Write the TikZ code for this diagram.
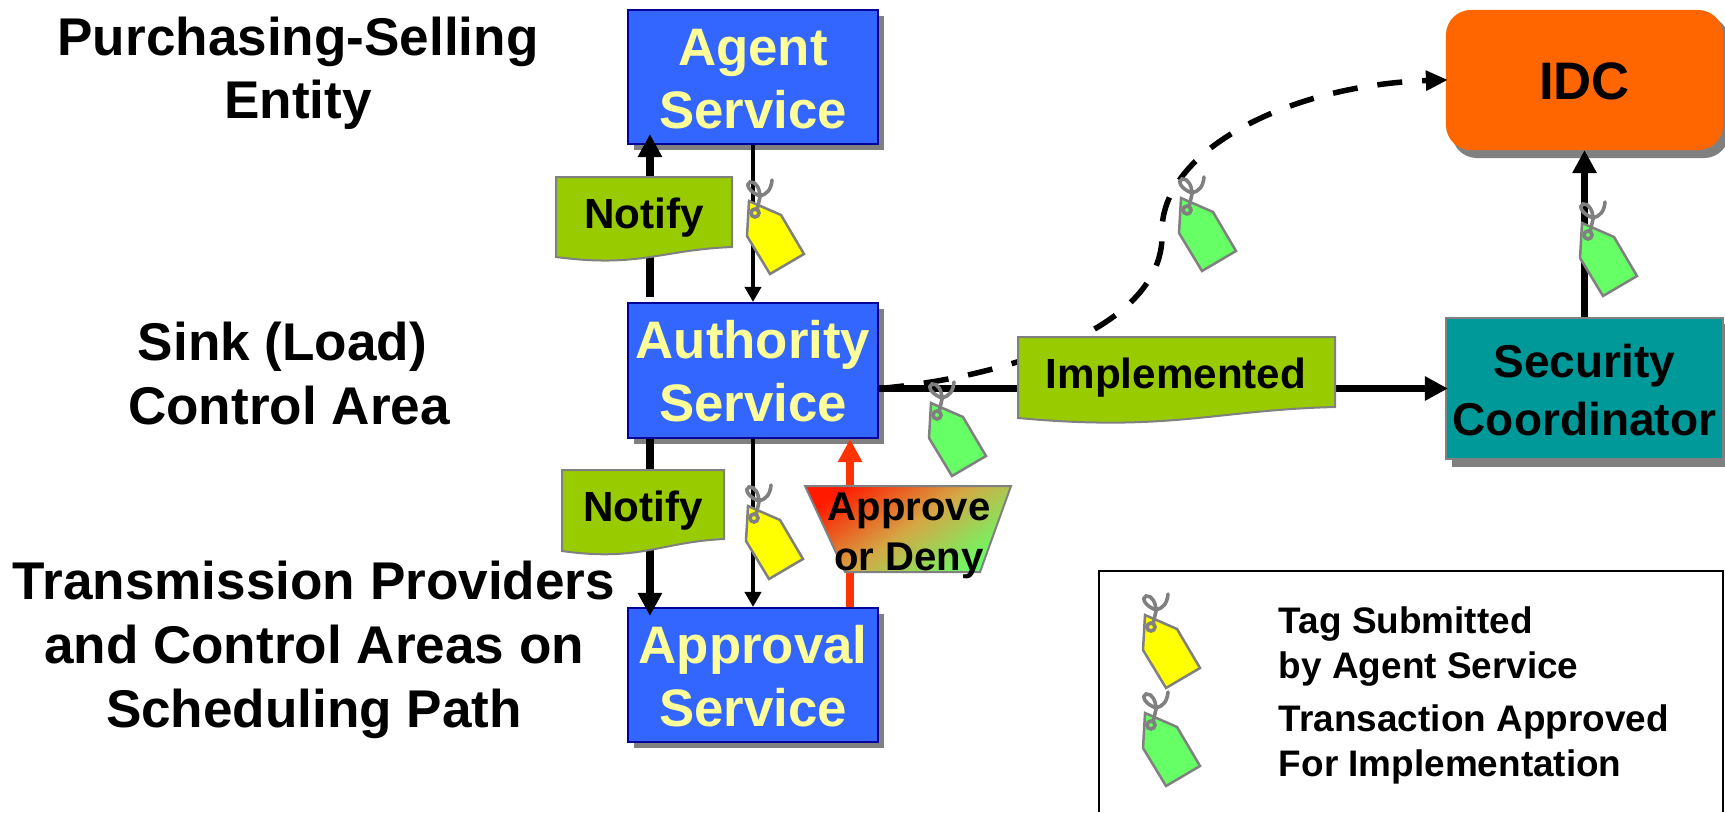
\documentclass[tikz,border=0pt]{standalone}
\usepackage{fontspec}
\setmainfont{Liberation Sans}
\usetikzlibrary{arrows.meta,shadows}
\definecolor{boxblue}{HTML}{3366FF}
\definecolor{boxedge}{HTML}{000099}
\definecolor{wavegreen}{HTML}{99CC00}
\definecolor{tagyellow}{HTML}{FFFF00}
\definecolor{taggreen}{HTML}{66FF66}
\definecolor{paleyellow}{HTML}{FFFF99}
\definecolor{idcorange}{HTML}{FF6600}
\definecolor{teal}{HTML}{009999}
\definecolor{redarrow}{HTML}{FF3300}
\definecolor{redstart}{HTML}{FF1A00}
\definecolor{midgate}{HTML}{D4A845}
\definecolor{shadowgray}{HTML}{808080}
\pgfdeclareverticalshading{gateshade}{100bp}{color(0bp)=(taggreen); color(24bp)=(taggreen); color(50bp)=(midgate); color(76bp)=(redstart); color(100bp)=(redstart)}
\begin{document}
\begin{tikzpicture}[x=0.01cm,y=-0.01cm,
    service/.style={draw=boxedge, line width=.02cm, fill=boxblue, text=paleyellow, inner sep=0pt, minimum width=2.5cm, minimum height=1.34cm, align=center, font=\fontsize{15}{17.9}\selectfont\bfseries, drop shadow={shadow xshift=.06cm, shadow yshift=-.06cm, fill=shadowgray, opacity=1}},
    title/.style={align=center, font=\fontsize{15.1}{18.1}\selectfont\bfseries},
    small/.style={align=center, font=\fontsize{12}{14.2}\selectfont\bfseries},
    legendtext/.style={anchor=west, align=left, font=\fontsize{10.5}{12.8}\selectfont\bfseries},
    wave/.style={draw=shadowgray, line width=.02cm, fill=wavegreen},
    heavy/.style={line width=.075cm, -{Triangle[length=.23cm, width=.23cm]}},
    light/.style={line width=.04cm, -{Triangle[length=.15cm, width=.16cm]}},
    pics/hangtag/.style={code={
        \draw[draw=shadowgray, line width=.025cm, fill=#1] (0,0) -- (32,14) -- (55,53) -- (21,73) -- (-2,35) -- cycle;
        \draw[draw=shadowgray, line width=.036cm] (6,12) circle (4);
        \draw[draw=shadowgray, line width=.036cm, line cap=round] (8,9) -- (11,-4) .. controls (11,-12) and (7,-20) .. (1,-19) .. controls (-4,-17) and (0,-9) .. (11,-5) .. controls (18,-7) and (22,-11) .. (23,-21);
    }}]
    \useasboundingbox (0,0) rectangle (1725,812);

    % draw the services
    \node[service] (agent) at (753,77) {\rule{0pt}{11.5pt}Agent\\Service};
    \node[service, minimum height=1.35cm] (authority) at (753,370.5) {\rule{0pt}{11.5pt}Authority\\Service};
    \node[service] (approval) at (753,675) {\rule{0pt}{11.5pt}Approval\\Service};
    \node[service, draw=none, fill=idcorange, text=black, rounded corners=.25cm, minimum width=2.77cm, minimum height=1.4cm, drop shadow={shadow xshift=.06cm, shadow yshift=-.08cm, fill=shadowgray, opacity=1}] (idc) at (1584.5,80) {\rule{0pt}{11.5pt}IDC};
    \node[service, draw=shadowgray, fill=teal, text=black, minimum width=2.77cm, minimum height=1.41cm, font=\fontsize{13.1}{16.5}\selectfont\bfseries, drop shadow={shadow xshift=.06cm, shadow yshift=-.08cm, fill=shadowgray, opacity=1}] (security) at (1584.5,388.5) {\rule{0pt}{10.3pt}Security\\Coordinator};

    % the texts on the left
    \node[title] (entity) at (298,73.4) {Purchasing-Selling\\Entity};
    \node[title] (sink) at (289,373.5) {Sink (Load)\hspace*{.13cm}\\Control Area};
    \node[title] (path) at (314,650) {Transmission Providers\\and Control Areas on\\Scheduling Path};

    % draw the arrows
    \draw[heavy, shorten >=-.11cm] ([xshift=.23cm, yshift=.05cm]authority.north west) -- ([xshift=.23cm]agent.south west);
    \draw[heavy, shorten >=-.09cm] ([xshift=.23cm]authority.south west) -- ([xshift=.23cm]approval.north west);
    \draw[light] (agent.south) -- (authority.north);
    \draw[light] (authority.south) -- (approval.north);
    \draw[heavy, redarrow, line width=.08cm] ([xshift=-.29cm]approval.north east) -- ([xshift=-.29cm]authority.south east);
    \draw[heavy, shorten >=-.03cm] (authority.east |- security.west) -- (security.west);
    \draw[heavy, shorten >=-.01cm] (security.north) -- (idc.south);
    \draw[line width=.055cm, dash pattern=on .25cm off .2cm, shorten >=-.03cm, -{Triangle[length=.22cm, width=.19cm]}] (authority.east |- security.west) .. controls (1000,378) and (1165,330) .. (1162,233) .. controls (1160,150) and (1290,85) .. (idc.west);

    % the wavy labels and the gate
    \draw[wave] (556,177) -- (732,177) -- (732,247) .. controls (660,250) and (640,268) .. (556,257) -- cycle;
    \node[small] (notifyup) at (644,217.5) {Notify};
    \draw[wave] (562,470) -- (724,470) -- (724,539) .. controls (660,542) and (640,562) .. (562,551) -- cycle;
    \node[small] (notifydown) at (643,510.5) {Notify};
    \draw[wave] (1018,337) -- (1335,337) -- (1335,407) .. controls (1215,410) and (1170,432) .. (1018,418) -- cycle;
    \node[small] (implemented) at (1176,377.5) {Implemented};
    \shade[draw=shadowgray, line width=.02cm, shading=gateshade, shading angle=35] (805,486) -- (1011,486) -- (980,572) -- (845,572) -- cycle;
    \node[small, font=\fontsize{11.4}{14.2}\selectfont\bfseries] (gate) at (909,535.5) {Approve\\or Deny};

    % the tags on the arrows
    \pic at (749,201) {hangtag=tagyellow};
    \pic at (748,506) {hangtag=tagyellow};
    \pic at (931,403) {hangtag=taggreen};
    \pic at (1181,198) {hangtag=taggreen};
    \pic at (1582,223) {hangtag=taggreen};

    % the legend
    \draw[line width=.02cm] (1099,812) -- (1099,571) -- (1723,571) -- (1723,812);
    \pic at (1145,615) {hangtag=tagyellow};
    \pic at (1145,713) {hangtag=taggreen};
    \node[legendtext] (submitted) at (1266.5,646.5) {Tag Submitted\\by Agent Service};
    \node[legendtext] (approved) at (1266.5,744.5) {Transaction Approved\\For Implementation};

\end{tikzpicture}
\end{document}
